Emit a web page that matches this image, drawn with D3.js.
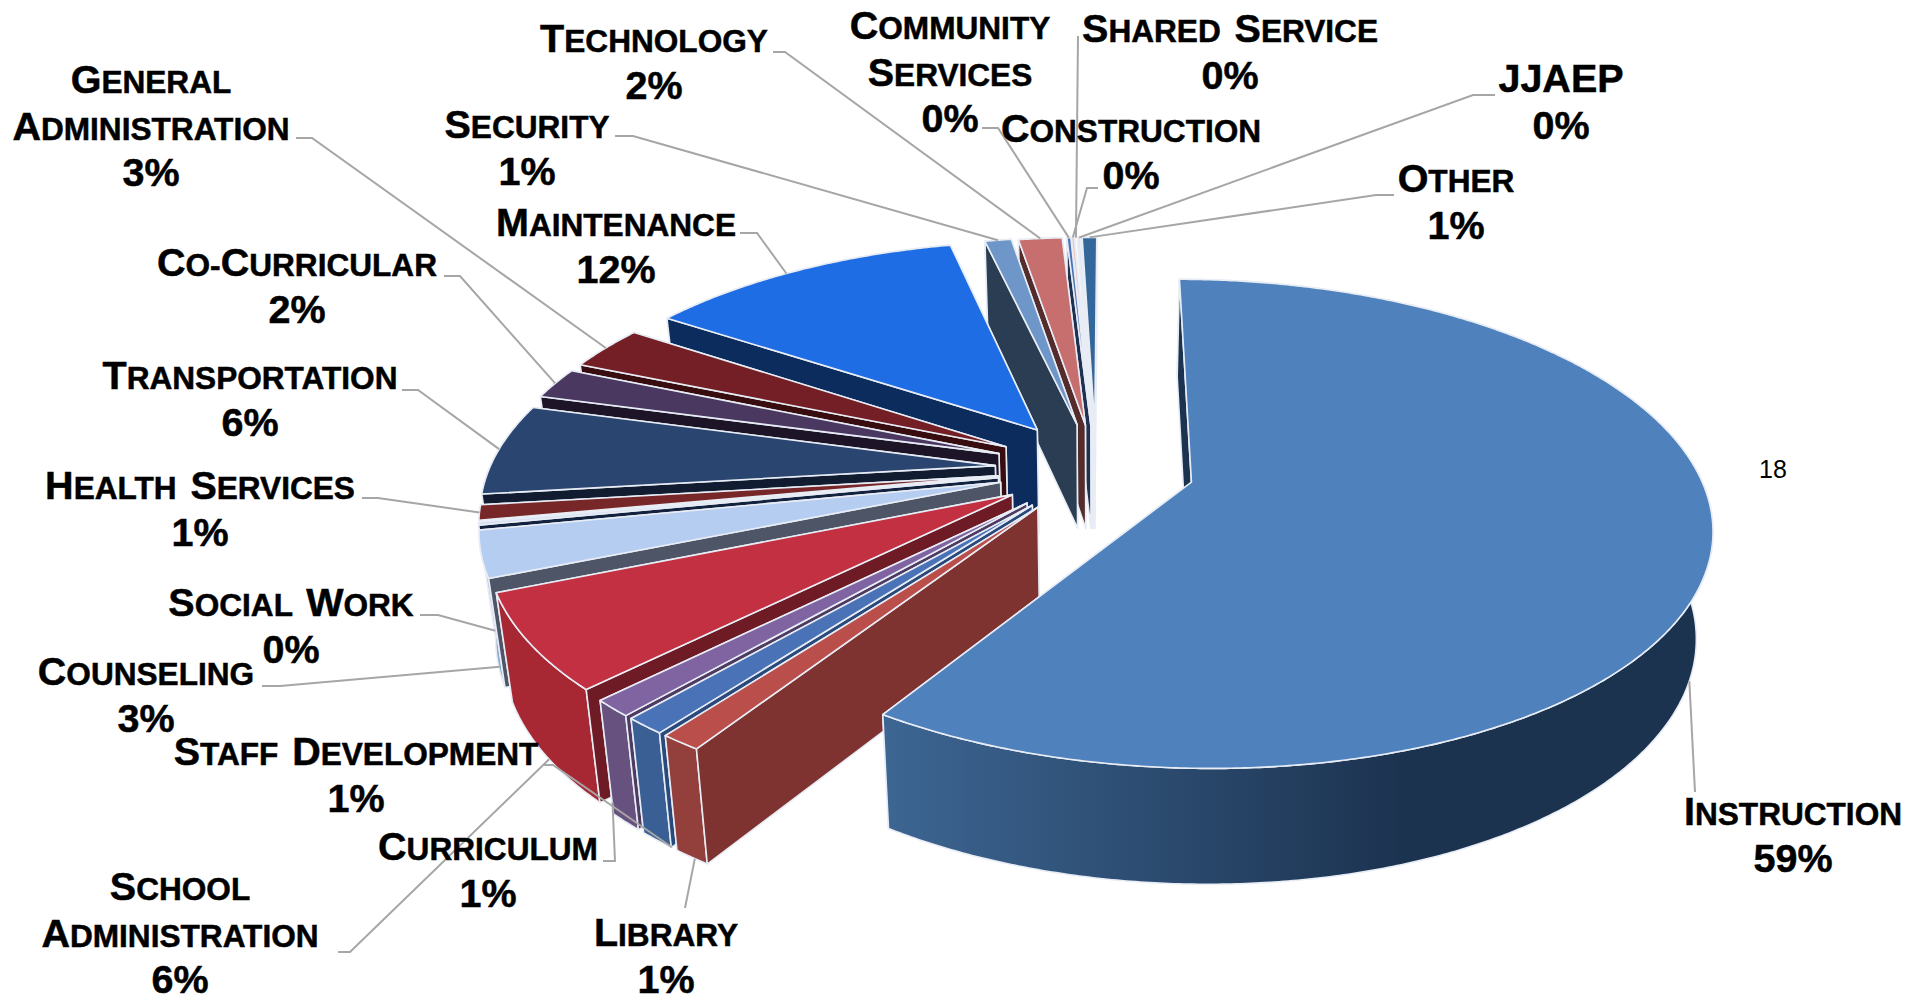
<!DOCTYPE html>
<html>
<head>
<meta charset="utf-8">
<style>
  html, body { margin: 0; padding: 0; background: #fff; overflow: hidden; }
  text { font-family: "Liberation Sans", Arial, sans-serif; font-weight: bold; fill: #000; }
  .lbl { stroke: #000; stroke-width: 0.5px; word-spacing: 5px; }
  .low { text-transform: uppercase; }
</style>
</head>
<body>
<svg id="chart" width="1909" height="1001"></svg>
<script src="https://cdn.jsdelivr.net/npm/d3@7"></script>
<script>
var categories = ['Instruction', 'Library', 'Curriculum', 'Staff Development', 'School Administration',
  'Counseling', 'Social Work', 'Health Services', 'Transportation', 'Co-Curricular',
  'General Administration', 'Maintenance', 'Security', 'Technology', 'Community Services',
  'Construction', 'Shared Service', 'JJAEP', 'Other'];
var values = [58.8, 1.1, 1.1, 1.1, 6.3, 3.05, 0.2, 1.0, 6.1, 2.1, 3.0, 12.0, 1.0, 1.65, 0.15, 0.1, 0.1, 0.1, 0.55];
/* how far each slice is pulled out, as a share of the radius */
var explodeBy = [0.195, 0.195, 0.195, 0.195, 0.195, 0.195, 0.195, 0.195, 0.2, 0.205, 0.205, 0.21, 0.2, 0.195, 0.195, 0.195, 0.195, 0.195, 0.195];

/* colours per slice: top face, cut wall, outer rim */
var topColors = ['#4f81bd', '#b94e4b', '#4a73b7', '#8064a2', '#c23041', '#b5cdf1', '#d6e2f3', '#772728', '#2a4570',
  '#4b3860', '#741e25', '#1f6de4', '#6e96c9', '#c76e6e', '#4a73b7', '#f0b8b8', '#ffffff', '#dbe6f6', '#336699'];
var wallColors = ['#1c3350', '#7f3331', '#2a4a7c', '#4e3b62', '#6e1b25', '#4d5566', '#13233f', '#f4f6fa', '#111c30',
  '#1d1428', '#380d10', '#0c2c5d', '#2b3d52', '#552c2c', '#1f3050', '#f6f6f8', '#f6f6f8', '#f2f5fa', '#eef2f8'];
var rimColors = ['url(#rimGrad)', '#93403c', '#3a5f94', '#67517f', '#a72833', '#8fa9cf', '#5f7ea8', '#5c1d1e', '#1e3355',
  '#372947', '#57171c', '#16438c', '#53729a', '#955252', '#37568a', '#b48a8a', '#ddd', '#a3adba', '#264d73'];

var fontSize = 39.5, lineGap = 46.3;
/* label centre x, first line centre y, then elbow start and knee of the leader */
var labelLayout = [
  { x: 1793, y: 811, from: [1695, 792], at: 0.52, h: 1 },
  { x: 666, y: 932, from: [685, 908], at: 0.4, h: 1 },
  { x: 488, y: 846, from: [603, 861], knee: [615, 861], at: 2.2, h: 0.9 },
  { x: 356, y: 751, from: [544, 765], knee: [553, 765], at: -1.2, h: 1 },
  { x: 180, y: 886, from: [338, 952], knee: [350, 952], at: 0.45, h: 1 },
  { x: 146, y: 671, from: [262, 686], knee: [280, 686], at: 0.2, h: 0.9 },
  { x: 291, y: 602, from: [420, 615], knee: [438, 615], at: 0.5, h: 1 },
  { x: 200, y: 485, from: [362, 498], knee: [378, 498], at: 0.5, h: 0 },
  { x: 250, y: 375, from: [402, 390], knee: [418, 390], at: 0.5, h: 0 },
  { x: 297, y: 262, from: [444, 276], knee: [460, 276], at: 0.5, h: 0 },
  { x: 151, y: 79, from: [296, 138], knee: [312, 138], at: 0.5, h: 0 },
  { x: 616, y: 222, from: [740, 233], knee: [757, 233], at: 0.46, h: 0 },
  { x: 527, y: 124, from: [615, 136], knee: [633, 136], at: 0.5, h: 0 },
  { x: 654, y: 38, from: [773, 52], knee: [785, 52], at: 0.5, h: 0 },
  { x: 950, y: 25, from: [982, 128], knee: [998, 128], at: 0.5, h: 0 },
  { x: 1131, y: 128, from: [1098, 188], knee: [1087, 188], at: 0.5, h: 0 },
  { x: 1230, y: 28, from: [1078, 36], at: 0.5, h: 0 },
  { x: 1561, y: 78, from: [1495, 95], knee: [1473, 95], at: 0.5, h: 0 },
  { x: 1456, y: 178, from: [1394, 195], knee: [1376, 195], at: 0.5, h: 0 }
];
var wrapped = ['General Administration', 'School Administration', 'Community Services'];

var firstAngle = 0.25 * Math.PI / 180, perspective = 0.169, taper = 0.027;

var svg = d3.select('#chart');
var xScale = d3.scaleLinear().domain([-1, 1]).range([1096 - 506, 1096 + 506]);
var yScale = d3.scaleLinear().domain([-1, 1]).range([469 - 233, 469 + 233]);
var zScale = d3.scaleLinear().domain([0, 1]).range([0, 105]);
var pct = d3.format('.0%');
var total = d3.sum(values);

var grad = svg.append('defs').append('linearGradient').attr('id', 'rimGrad')
  .attr('gradientUnits', 'userSpaceOnUse').attr('x1', 883).attr('x2', 1400).attr('y1', 0).attr('y2', 0);
grad.append('stop').attr('offset', 0).attr('stop-color', '#3d6693');
grad.append('stop').attr('offset', 1).attr('stop-color', '#1c3350');

// the lower edge of the pie pulls in a little towards the middle
function project(u, v, h) {
  var s = 1 / (1 - perspective * v);
  return [xScale(u * s * (1 - taper * h)), yScale(v * s) + zScale(h) * Math.sqrt(s)];
}

var slices = d3.pie().sort(null).startAngle(firstAngle).endAngle(firstAngle + 2 * Math.PI)(values);
slices.forEach(function (d, i) {
  var mid = (d.startAngle + d.endAngle) / 2;
  d.u0 = explodeBy[i] * Math.sin(mid);
  d.v0 = -explodeBy[i] * Math.cos(mid);
});

function rimPoint(d, a, h) {
  return project(d.u0 + Math.sin(a), d.v0 - Math.cos(a), h);
}
function rimAngles(d) {
  var n = Math.max(2, Math.ceil((d.endAngle - d.startAngle) / 0.008));
  return d3.range(n + 1).map(function (i) { return d.startAngle + (d.endAngle - d.startAngle) * i / n; });
}

var line = d3.line();
var faces = svg.append('g').attr('stroke', '#e8edf5').attr('stroke-width', 1.6).attr('stroke-linejoin', 'round');

function wall(g, d, a, color) {
  g.append('path').attr('fill', color)
    .attr('d', line([project(d.u0, d.v0, 0), rimPoint(d, a, 0), rimPoint(d, a, 1), project(d.u0, d.v0, 1)]) + 'Z');
}

/* painter's order: back slices first, first slice (Instruction) last */
var order = d3.range(1, slices.length).reverse().concat([0]);
order.forEach(function (i) {
  var d = slices[i];
  var angles = rimAngles(d);
  var g = faces.append('g').attr('class', 'slice');

  wall(g, d, d.endAngle, wallColors[i]);
  // outer rim
  var rim = angles.map(function (a) { return rimPoint(d, a, 0); })
    .concat(angles.slice().reverse().map(function (a) { return rimPoint(d, a, 1); }));
  g.append('path').attr('fill', rimColors[i]).attr('d', line(rim) + 'Z');
  wall(g, d, d.startAngle, wallColors[i]);
  // top face
  var top = [project(d.u0, d.v0, 0)].concat(angles.map(function (a) { return rimPoint(d, a, 0); }));
  g.append('path').attr('fill', topColors[i]).attr('d', line(top) + 'Z');
});

/* leader lines */
var leaders = svg.append('g').attr('fill', 'none').attr('stroke', '#a6a6a6').attr('stroke-width', 2);
slices.forEach(function (d, i) {
  var L = labelLayout[i];
  var a = d.startAngle + (d.endAngle - d.startAngle) * L.at;
  var pts = [L.from];
  if (L.knee) pts.push(L.knee);
  pts.push(rimPoint(d, a, L.h));
  leaders.append('path').attr('d', line(pts));
});

/* labels: small caps written out so the lower case comes out at 80% */
function addLine(x, y, str) {
  var t = svg.append('text').attr('class', 'lbl').attr('x', x).attr('y', y + fontSize * 0.36)
    .attr('text-anchor', 'middle').attr('font-size', fontSize);
  (str.match(/[A-Z0-9%]+|[^A-Z0-9%]+/g) || []).forEach(function (part) {
    var low = /[a-z]/.test(part) || part === ' ' || part === '-';
    t.append('tspan').attr('class', low ? 'low' : null)
      .attr('font-size', low ? fontSize * 0.8 : fontSize).text(part);
  });
}
categories.forEach(function (name, i) {
  var L = labelLayout[i];
  var lines = wrapped.indexOf(name) >= 0 ? name.split(' ') : [name];
  lines.push(pct(values[i] / total));
  lines.forEach(function (s, k) { addLine(L.x, L.y + k * lineGap, s); });
});

/* stray point number next to the big slice */
svg.append('text').attr('x', 1773).attr('y', 478).attr('text-anchor', 'middle')
  .attr('font-size', 25).style('font-weight', 'normal').text('18');
</script>
</body>
</html>
